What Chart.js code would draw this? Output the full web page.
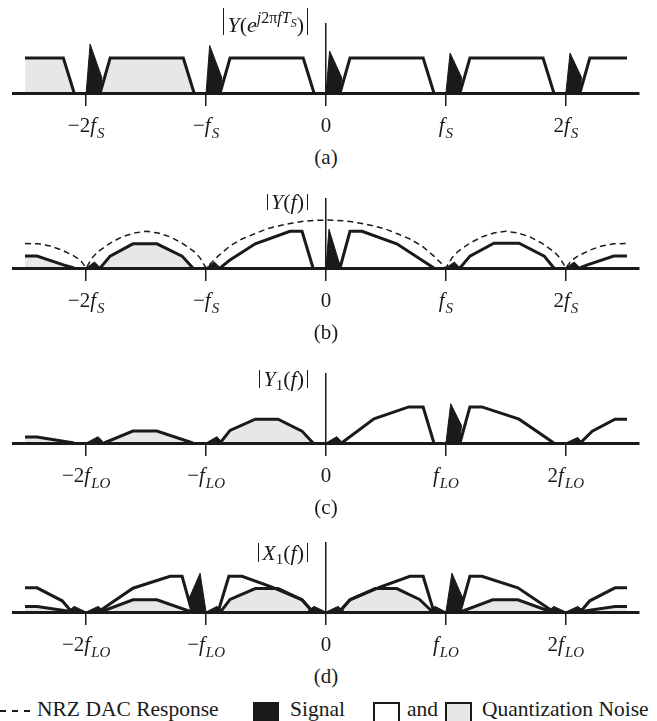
<!DOCTYPE html>
<html>
<head>
<meta charset="utf-8">
<script src="https://cdn.jsdelivr.net/npm/chart.js@4.4.1/dist/chart.umd.min.js"></script>
<style>
  body { margin: 0; background: #fff; }
  #wrap { position: relative; width: 657px; height: 721px; overflow: hidden; font-family: "Liberation Serif", serif; color: #1a1a1a; }
  canvas.panel { position: absolute; left: 0; }
  .ttl { position: absolute; right: 349px; font-size: 22px; border-left: 1.5px solid #1a1a1a; border-right: 1.5px solid #1a1a1a; padding: 0 3px; white-space: nowrap; }
  .ttl sup { font-size: 16px; vertical-align: 9px; line-height: 0; }
  .ttl sup sub { font-size: 12px; vertical-align: -4px; }
  .ttl > sub { font-size: 15px; vertical-align: -4px; line-height: 0; }
  .cap { position: absolute; left: 286px; width: 80px; text-align: center; font-size: 21px; line-height: 22px; }
  .lg { position: absolute; top: 698px; font-size: 21.5px; line-height: 22px; white-space: nowrap; }
  .box { position: absolute; top: 702px; width: 27px; height: 24px; box-sizing: border-box; border: 2.5px solid #1a1a1a; }
</style>
</head>
<body>
<div id="wrap">
  <canvas id="pa" class="panel" width="657" height="130" style="top:13px"></canvas>
  <canvas id="pb" class="panel" width="657" height="130" style="top:188px"></canvas>
  <canvas id="pc" class="panel" width="657" height="130" style="top:363px"></canvas>
  <canvas id="pd" class="panel" width="657" height="130" style="top:532px"></canvas>

  <div class="ttl" style="top:8px; padding-top:6px; line-height:21px"><i>Y</i>(<i>e</i><sup><i>j</i>2π<i>fT</i><sub><i>S</i></sub></sup>)</div>
  <div class="ttl" style="top:194px; line-height:16px"><i>Y</i>(<i>f</i>)</div>
  <div class="ttl" style="top:370px; line-height:18px"><i>Y</i><sub>1</sub>(<i>f</i>)</div>
  <div class="ttl" style="top:543px; line-height:19px"><i>X</i><sub>1</sub>(<i>f</i>)</div>

  <div class="cap" style="top:146px">(a)</div>
  <div class="cap" style="top:321px">(b)</div>
  <div class="cap" style="top:496px">(c)</div>
  <div class="cap" style="top:665px">(d)</div>

  <div style="position:absolute; left:0; top:710px; width:32px; height:1.5px; background:repeating-linear-gradient(90deg, #1a1a1a 0 6px, transparent 6px 12px)"></div>
  <div class="lg" style="left:37px">NRZ DAC Response</div>
  <div class="box" style="left:253px; width:26px; background:#1a1a1a"></div>
  <div class="lg" style="left:290px">Signal</div>
  <div class="box" style="left:373px; background:#fff"></div>
  <div class="lg" style="left:407px">and</div>
  <div class="box" style="left:445px; background:#e6e7e9"></div>
  <div class="lg" style="left:482px">Quantization Noise</div>
</div>
<script>
// frequencies in units of fS (= fLO), heights in units of the flat noise level of (a)
const tickValues = [-2, -1, 0, 1, 2]
const tickPrefix = ['\u22122', '\u2212', '0', '', '2']

// (a) |Y(e^j2πfTs)|
const aGrayNoise = [
  [[-2.51, 1], [-2.19, 1], [-2.1, 0]],
  [[-1.883, 0], [-1.8, 1], [-1.19, 1], [-1.1, 0]]
]
const aWhiteNoise = [
  [[-0.883, 0], [-0.8, 1], [-0.19, 1], [-0.1, 0]],
  [[0.117, 0], [0.2, 1], [0.81, 1], [0.9, 0]],
  [[1.117, 0], [1.2, 1], [1.81, 1], [1.9, 0]],
  [[2.117, 0], [2.2, 1], [2.51, 1]]
]
const aSignal = [
  [[-2, 0], [-1.967, 1.4], [-1.87, 0.45], [-1.88, 0]],
  [[-1, 0], [-0.97, 1.36], [-0.87, 0.45], [-0.88, 0]],
  [[0, 0], [0.03, 1.2], [0.13, 0.45], [0.12, 0]],
  [[1, 0], [1.035, 1.14], [1.13, 0.45], [1.12, 0]],
  [[2, 0], [2.035, 1.14], [2.13, 0.45], [2.12, 0]]
]

// (b) |Y(f)|
const bDacResponse = [
  [-2.51, 0.7], [-2.4, 0.69], [-2.3, 0.63], [-2.2, 0.51], [-2.1, 0.34], [-2.05, 0.23], [-2, 0],
  [-1.95, 0.29], [-1.9, 0.47], [-1.8, 0.71], [-1.7, 0.89], [-1.6, 1.0], [-1.5, 1.05],
  [-1.4, 1.0], [-1.3, 0.89], [-1.2, 0.71], [-1.1, 0.47], [-1.05, 0.29], [-1, 0],
  [-0.9, 0.34], [-0.8, 0.63], [-0.7, 0.83], [-0.6, 0.97], [-0.5, 1.11], [-0.4, 1.2],
  [-0.3, 1.27], [-0.2, 1.33], [-0.1, 1.36], [0, 1.37], [0.1, 1.36], [0.2, 1.33],
  [0.3, 1.27], [0.4, 1.2], [0.5, 1.11], [0.6, 0.97], [0.7, 0.83], [0.8, 0.63], [0.9, 0.34],
  [1, 0], [1.05, 0.29], [1.1, 0.47], [1.2, 0.71], [1.3, 0.89], [1.4, 1.0], [1.5, 1.05],
  [1.6, 1.0], [1.7, 0.89], [1.8, 0.71], [1.9, 0.47], [1.95, 0.29], [2, 0],
  [2.05, 0.23], [2.1, 0.34], [2.2, 0.51], [2.3, 0.63], [2.4, 0.69], [2.51, 0.7]
]
const bGrayNoise = [
  [[-2.51, 0.34], [-2.41, 0.34], [-2.19, 0.09], [-2.1, 0]],
  [[-1.883, 0], [-1.8, 0.34], [-1.61, 0.69], [-1.41, 0.69], [-1.2, 0.34], [-1.11, 0]]
]
const bWhiteNoise = [
  [[-0.883, 0], [-0.8, 0.23], [-0.59, 0.69], [-0.3, 1.05], [-0.2, 1.05], [-0.108, 0]],
  [[0.117, 0], [0.2, 1.05], [0.3, 1.05], [0.59, 0.69], [0.9, 0]],
  [[1.117, 0], [1.2, 0.34], [1.4, 0.71], [1.61, 0.71], [1.82, 0.34], [1.9, 0]],
  [[2.117, 0], [2.18, 0.09], [2.4, 0.34], [2.51, 0.34]]
]
const bSignal = [
  [[-2, 0], [-1.93, 0.17], [-1.88, 0]],
  [[-1, 0], [-0.93, 0.17], [-0.88, 0]],
  [[0, 0], [0.025, 1.11], [0.11, 0.15], [0.115, 0]],
  [[1, 0], [1.07, 0.17], [1.12, 0]],
  [[2, 0], [2.07, 0.17], [2.12, 0]]
]

// (c) |Y1(f)|
const cGrayNoise = [
  [[-2.51, 0.17], [-2.41, 0.17], [-2.1, 0]],
  [[-1.85, 0], [-1.61, 0.34], [-1.41, 0.34], [-1.11, 0]],
  [[-0.883, 0], [-0.8, 0.36], [-0.59, 0.68], [-0.4, 0.68], [-0.2, 0.34], [-0.108, 0]]
]
const cWhiteNoise = [
  [[0.13, 0], [0.4, 0.69], [0.69, 1.03], [0.81, 1.03], [0.9, 0]],
  [[1.117, 0], [1.2, 1.03], [1.3, 1.03], [1.61, 0.68], [1.9, 0]],
  [[2.12, 0], [2.22, 0.34], [2.41, 0.68], [2.51, 0.68]]
]
const cSignal = [
  [[-2, 0], [-1.9, 0.18], [-1.85, 0]],
  [[-1, 0], [-0.91, 0.18], [-0.86, 0]],
  [[0, 0], [0.09, 0.18], [0.14, 0]],
  [[1, 0], [1.04, 1.12], [1.13, 0.5], [1.115, 0]],
  [[2, 0], [2.1, 0.16], [2.14, 0]]
]

// (d) |X1(f)|
const dGrayNoise = [
  [[-2.51, 0.16], [-2.41, 0.16], [-2.1, 0]],
  [[-1.88, 0], [-1.61, 0.35], [-1.41, 0.35], [-1.12, 0]],
  [[-0.88, 0], [-0.8, 0.36], [-0.59, 0.67], [-0.4, 0.67], [-0.2, 0.35], [-0.11, 0]],
  [[0.11, 0], [0.2, 0.35], [0.41, 0.67], [0.59, 0.67], [0.78, 0.36], [0.89, 0]],
  [[1.12, 0], [1.39, 0.35], [1.6, 0.35], [1.88, 0]],
  [[2.1, 0], [2.41, 0.16], [2.51, 0.16]]
]
const dWhiteNoise = [
  [[-2.51, 0.69], [-2.41, 0.69], [-2.2, 0.32], [-2.12, 0]],
  [[-1.9, 0], [-1.61, 0.68], [-1.3, 1.02], [-1.2, 1.02], [-1.117, 0]],
  [[-0.9, 0], [-0.81, 1.02], [-0.7, 1.02], [-0.45, 0.71], [-0.2, 0.35], [-0.11, 0]],
  [[0.11, 0], [0.2, 0.35], [0.45, 0.71], [0.7, 1.02], [0.81, 1.02], [0.9, 0]],
  [[1.117, 0], [1.2, 1.02], [1.3, 1.02], [1.6, 0.69], [1.9, 0]],
  [[2.12, 0], [2.2, 0.32], [2.41, 0.69], [2.51, 0.69]]
]
const dSignal = [
  [[-2, 0], [-2.1, 0.16], [-2.16, 0]],
  [[-2, 0], [-1.9, 0.16], [-1.84, 0]],
  [[-1, 0], [-1.05, 1.11], [-1.14, 0.4], [-1.11, 0]],
  [[-1, 0], [-0.91, 0.16], [-0.85, 0]],
  [[0, 0], [-0.1, 0.16], [-0.16, 0]],
  [[0, 0], [0.1, 0.16], [0.16, 0]],
  [[1, 0], [0.91, 0.16], [0.85, 0]],
  [[1, 0], [1.05, 1.11], [1.14, 0.4], [1.11, 0]],
  [[2, 0], [1.9, 0.16], [1.84, 0]],
  [[2, 0], [2.1, 0.16], [2.16, 0]]
]

const ink = '#1a1a1a'
const gray = '#e6e7e9'
const fontRoman = '21px "Liberation Serif"'
const fontItalic = 'italic 21px "Liberation Serif"'
const fontSub = 'italic 15px "Liberation Serif"'

function toPoints(pts) {
  return pts.map(p => ({ x: p[0], y: p[1] }))
}

// one dataset per polygon
function polys(list, color, fillMode, width) {
  return list.map(pts => ({
    data: toPoints(pts),
    backgroundColor: color,
    borderColor: ink,
    borderWidth: width,
    borderJoinStyle: 'miter',
    fill: fillMode,
    pointRadius: 0,
    tension: 0
  }))
}

function dashed(pts) {
  return {
    data: toPoints(pts),
    borderColor: ink,
    borderWidth: 1.5,
    borderDash: [6, 4],
    fill: false,
    pointRadius: 0,
    tension: 0
  }
}

// draws -2f_S ... 2f_S under the tick marks
function tickLabels(sub) {
  return {
    id: 'tickLabels',
    afterDraw(chart) {
      const ctx = chart.ctx
      const xs = chart.scales.x
      const y = chart.chartArea.bottom + 39
      ctx.save()
      ctx.fillStyle = ink
      ctx.textBaseline = 'alphabetic'
      ctx.textAlign = 'left'
      tickValues.forEach((v, i) => {
        const x = xs.getPixelForValue(v)
        const pre = tickPrefix[i]
        if (v === 0) {
          ctx.font = fontRoman
          ctx.fillText(pre, x - ctx.measureText(pre).width / 2, y)
          return
        }
        ctx.font = fontRoman
        const w1 = ctx.measureText(pre).width
        ctx.font = fontItalic
        const w2 = ctx.measureText('f').width + 1
        ctx.font = fontSub
        const w3 = ctx.measureText(sub).width
        let left = x - (w1 + w2 + w3) / 2
        ctx.font = fontRoman
        ctx.fillText(pre, left, y)
        left += w1
        ctx.font = fontItalic
        ctx.fillText('f', left, y)
        left += w2
        ctx.font = fontSub
        ctx.fillText(sub, left, y + 6)
      })
      ctx.restore()
    }
  }
}

function makePanel(id, datasets, sub) {
  return new Chart(document.getElementById(id), {
    type: 'line',
    data: { datasets: datasets },
    options: {
      responsive: false,
      animation: false,
      events: [],
      layout: { padding: { left: 13, right: 18, top: 10, bottom: 37 } },
      plugins: {
        legend: { display: false },
        tooltip: { enabled: false },
        filler: { drawTime: 'beforeDatasetsDraw' }
      },
      scales: {
        x: {
          type: 'linear',
          min: -2.61,
          max: 2.61,
          afterBuildTicks: scale => { scale.ticks = tickValues.map(v => ({ value: v })) },
          ticks: { display: false },
          grid: {
            color: c => (c.tick && c.tick.value === 0 ? ink : 'rgba(0,0,0,0)'),
            lineWidth: 1.5,
            tickColor: ink,
            tickWidth: 1.5,
            tickLength: 13
          },
          border: { display: true, color: ink, width: 3, z: 1 }
        },
        y: { type: 'linear', min: 0, max: 2, display: false }
      }
    },
    plugins: [tickLabels(sub)]
  })
}

// datasets are drawn last-to-first, so top layers come first in the list
makePanel('pa', [
  ...polys(aSignal, ink, 'shape', 1),
  ...polys(aGrayNoise, gray, 'origin', 3),
  ...polys(aWhiteNoise, '#fff', 'origin', 3)
], 'S')

makePanel('pb', [
  ...polys(bSignal, ink, 'shape', 1),
  ...polys(bGrayNoise, gray, 'origin', 3),
  ...polys(bWhiteNoise, '#fff', 'origin', 3),
  dashed(bDacResponse)
], 'S')

makePanel('pc', [
  ...polys(cSignal, ink, 'shape', 1),
  ...polys(cGrayNoise, gray, 'origin', 3),
  ...polys(cWhiteNoise, '#fff', 'origin', 3)
], 'LO')

makePanel('pd', [
  ...polys(dSignal, ink, 'shape', 1),
  ...polys(dGrayNoise, gray, 'origin', 3),
  ...polys(dWhiteNoise, '#fff', 'origin', 3)
], 'LO')
</script>
</body>
</html>
